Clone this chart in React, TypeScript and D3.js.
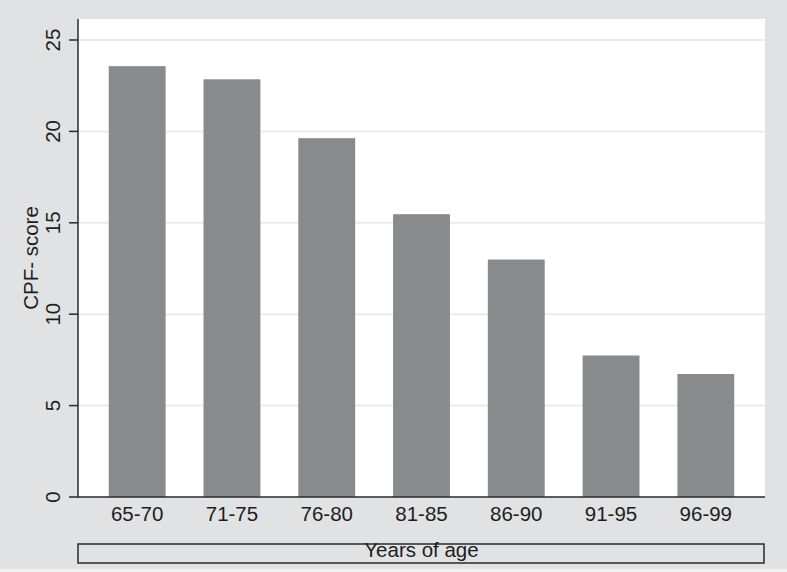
import React from "react";
import * as d3 from "d3";

const categories = ["65-70", "71-75", "76-80", "81-85", "86-90", "91-95", "96-99"];
const scores = [23.57, 22.85, 19.63, 15.47, 12.99, 7.74, 6.73];
const yTicks = [0, 5, 10, 15, 20, 25];
const yTitle = "CPF- score";
const xTitle = "Years of age";

const W = 787;
const H = 572;
const plot = { left: 78, right: 765, top: 19, bottom: 497 };
const FONT = "'Liberation Sans', Arial, Helvetica, sans-serif";
const FS = 20.5;

export default function App() {
  const x = d3
    .scaleBand<string>()
    .domain(categories)
    .range([89.8, 753.2])
    .paddingInner(0.4)
    .paddingOuter(0.2);
  const y = d3.scaleLinear().domain([0, 25]).range([plot.bottom, 40]);

  return (
    <>
      <style>{`body{margin:0}`}</style>
      <svg width={W} height={H} style={{ display: "block" }} fontFamily={FONT}>
        <rect x={0} y={0} width={W} height={H} fill="#e1e2e4" />
        <rect x={0} y={H - 3} width={W} height={3} fill="#f2f2f3" />
        <rect
          x={plot.left}
          y={plot.top}
          width={plot.right - plot.left}
          height={plot.bottom - plot.top}
          fill="#ffffff"
        />
        {yTicks
          .filter((t) => t > 0)
          .map((t) => (
            <line
              key={"g" + t}
              x1={plot.left}
              x2={plot.right}
              y1={y(t)}
              y2={y(t)}
              stroke="#eaebec"
              strokeWidth={2}
            />
          ))}
        {categories.map((c, i) => (
          <rect
            key={c}
            x={x(c)}
            y={y(scores[i])}
            width={x.bandwidth()}
            height={y(0) - y(scores[i])}
            fill="#898a8b"
          />
        ))}
        {/* y axis */}
        <line x1={plot.left} x2={plot.left} y1={plot.top} y2={plot.bottom + 0.5} stroke="#2a2a2a" strokeWidth={1.5} />
        {yTicks.map((t) => (
          <g key={"t" + t}>
            <line x1={plot.left - 9} x2={plot.left} y1={y(t)} y2={y(t)} stroke="#2a2a2a" strokeWidth={1.5} />
            <text
              transform={`translate(59.5,${y(t)}) rotate(-90)`}
              textAnchor="middle"
              fontSize={FS}
              fill="#1e1e1e"
            >
              {t}
            </text>
          </g>
        ))}
        <text
          transform={`translate(37.5,${(plot.top + plot.bottom) / 2}) rotate(-90)`}
          textAnchor="middle"
          fontSize={FS}
          fill="#1e1e1e"
        >
          {yTitle}
        </text>
        {/* x axis */}
        <line x1={plot.left} x2={plot.right} y1={plot.bottom} y2={plot.bottom} stroke="#2a2a2a" strokeWidth={1.5} />
        {categories.map((c) => (
          <text
            key={"x" + c}
            x={(x(c) as number) + x.bandwidth() / 2}
            y={520.5}
            textAnchor="middle"
            fontSize={FS}
            fill="#1e1e1e"
          >
            {c}
          </text>
        ))}
        <rect x={78} y={544} width={686} height={19} fill="#e1e2e4" stroke="#2a2a2a" strokeWidth={1.5} />
        <text x={421.5} y={557} textAnchor="middle" fontSize={FS} fill="#1e1e1e">
          {xTitle}
        </text>
      </svg>
    </>
  );
}
